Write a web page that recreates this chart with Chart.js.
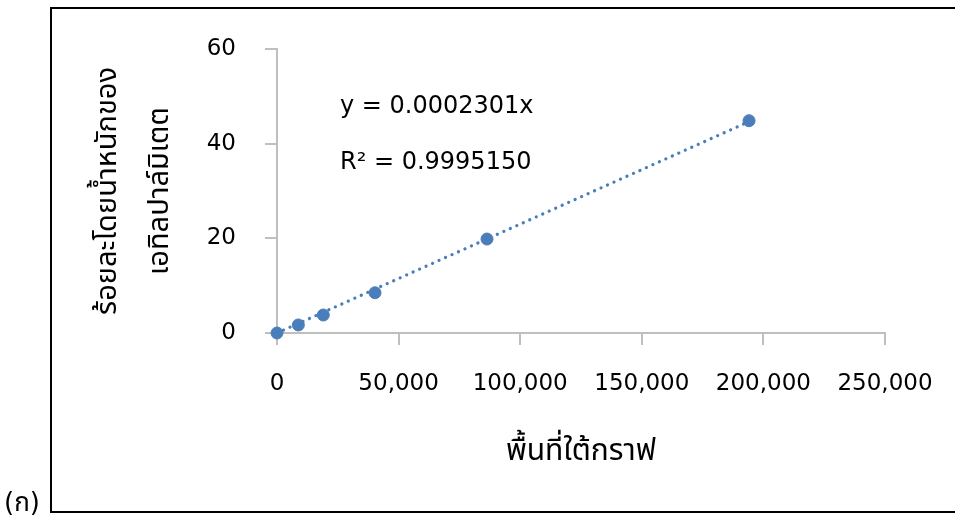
<!DOCTYPE html>
<html>
<head>
<meta charset="utf-8">
<script src="https://cdn.jsdelivr.net/npm/chart.js@4.4.1/dist/chart.umd.min.js"></script>
<style>
  html, body { margin: 0; padding: 0; background: #ffffff; }
  #wrap { width: 955px; height: 515px; position: relative; }
</style>
</head>
<body>
<div id="wrap"><canvas id="chart" width="955" height="515"></canvas></div>
<script>
// Measured samples: peak area vs. % by weight of ethyl palmitate
const peakArea = [0, 8770, 19040, 40300, 86350, 194100];
const weightPercent = [0, 1.7, 3.8, 8.5, 19.85, 44.85];

// Linear fit through the origin
const slope = 0.0002301;
const rSquared = 0.9995150;

// Axis labels and ticks
const xTitle = 'พื้นที่ใต้กราฟ';
const yTitle = ['ร้อยละโดยน้ำหนักของ', 'เอทิลปาล์มิเตต'];
const panelLabel = '(ก)';
const xTicks = [0, 50000, 100000, 150000, 200000, 250000];
const yTicks = [0, 20, 40, 60];

const FONT = '"DejaVu Sans", "Noto Sans Thai", "Leelawadee UI", Tahoma, sans-serif';
const AXIS_GRAY = '#bfbfbf';
const POINT_BLUE = '#4a7ebb';

const points = peakArea.map((x, i) => ({ x: x, y: weightPercent[i] }));
const fitEnd = peakArea[peakArea.length - 1];
const fitLine = [{ x: 0, y: 0 }, { x: fitEnd, y: slope * fitEnd }];

// Frame, panel label and fit equation
const decor = {
  id: 'decor',
  beforeDraw(chart) {
    const ctx = chart.ctx;
    ctx.save();
    ctx.fillStyle = '#ffffff';
    ctx.fillRect(0, 0, chart.width, chart.height);
    ctx.strokeStyle = '#000000';
    ctx.lineWidth = 2;
    ctx.beginPath();
    ctx.moveTo(chart.width + 5, 8);
    ctx.lineTo(51, 8);
    ctx.lineTo(51, 512);
    ctx.lineTo(chart.width + 5, 512);
    ctx.stroke();
    ctx.fillStyle = '#000000';
    ctx.font = '26px ' + FONT;
    ctx.textBaseline = 'alphabetic';
    ctx.textAlign = 'left';
    ctx.fillText(panelLabel, 4, 511);
    ctx.restore();
  },
  afterDatasetsDraw(chart) {
    const ctx = chart.ctx;
    ctx.save();
    ctx.fillStyle = '#000000';
    ctx.font = '24px ' + FONT;
    ctx.textBaseline = 'middle';
    ctx.textAlign = 'left';
    ctx.fillText('y = ' + slope.toFixed(7) + 'x', 340, 107);
    ctx.fillText('R² = ' + rSquared.toFixed(7), 340, 163);
    ctx.restore();
  }
};

new Chart(document.getElementById('chart'), {
  type: 'scatter',
  data: {
    datasets: [
      {
        type: 'line',
        data: fitLine,
        borderColor: POINT_BLUE,
        borderWidth: 3.2,
        borderDash: [0.1, 7],
        borderCapStyle: 'round',
        pointRadius: 0,
        fill: false,
        clip: false,
        order: 2
      },
      {
        data: points,
        backgroundColor: POINT_BLUE,
        borderColor: POINT_BLUE,
        borderWidth: 1,
        pointRadius: 6,
        pointHoverRadius: 6,
        clip: false,
        order: 1
      }
    ]
  },
  options: {
    responsive: false,
    animation: false,
    devicePixelRatio: 1,
    layout: { padding: { left: 0, right: 70, top: 49, bottom: 0 } },
    plugins: {
      legend: { display: false },
      tooltip: { enabled: false }
    },
    scales: {
      x: {
        type: 'linear',
        min: xTicks[0],
        max: xTicks[xTicks.length - 1],
        afterFit(scale) {
          scale.height = 182;
          scale.paddingLeft = 0;
          scale.paddingRight = 0;
        },
        afterBuildTicks(scale) { scale.ticks = xTicks.map(v => ({ value: v })); },
        border: { display: true, color: AXIS_GRAY, width: 2 },
        grid: { drawOnChartArea: false, drawTicks: true, tickLength: 12, color: AXIS_GRAY, lineWidth: 2 },
        ticks: {
          color: '#000000',
          font: { family: FONT, size: 23 },
          padding: 25,
          maxRotation: 0,
          callback: v => v.toLocaleString('en-US')
        },
        title: {
          display: true,
          text: xTitle,
          color: '#000000',
          font: { family: FONT, size: 30, lineHeight: '36px' },
          padding: { top: 0, bottom: 45 }
        }
      },
      y: {
        type: 'linear',
        min: yTicks[0],
        max: yTicks[yTicks.length - 1],
        afterFit(scale) {
          scale.width = 277;
          scale.paddingTop = 0;
          scale.paddingBottom = 0;
        },
        afterBuildTicks(scale) { scale.ticks = yTicks.map(v => ({ value: v })); },
        border: { display: true, color: AXIS_GRAY, width: 2 },
        grid: { drawOnChartArea: false, drawTicks: true, tickLength: 12, color: AXIS_GRAY, lineWidth: 2 },
        ticks: {
          color: '#000000',
          font: { family: FONT, size: 23 },
          padding: 29
        },
        title: {
          display: true,
          text: yTitle,
          color: '#000000',
          font: { family: FONT, size: 29, lineHeight: '52px' },
          padding: { top: 82, bottom: 0 }
        }
      }
    }
  },
  plugins: [decor]
});
</script>
</body>
</html>
